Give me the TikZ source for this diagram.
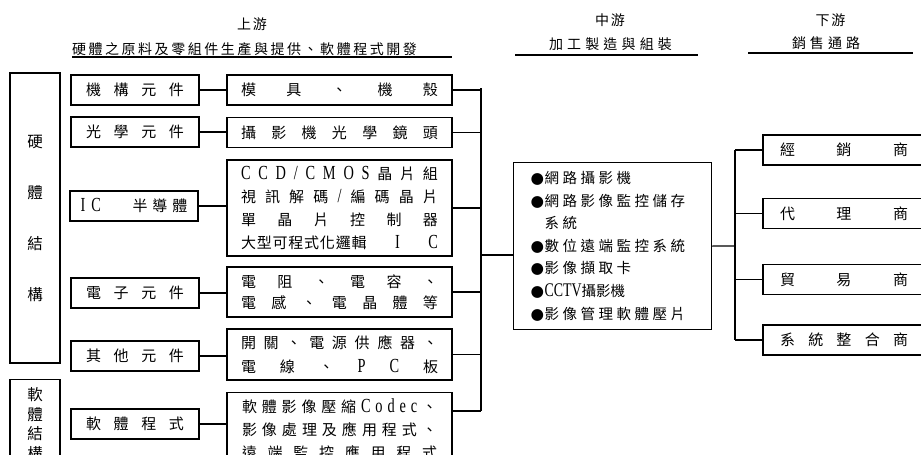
\documentclass[tikz,border=0pt]{standalone}
\usepackage{fontspec}
\setmainfont{Noto Sans CJK TC}
\newfontfamily\lat[FakeStretch=0.72,Scale=1.33]{Liberation Serif}
\newfontfamily\sym{DejaVu Sans}
\makeatletter
\def\spr@endm{\spr@end}
\def\spr@go#1{\def\spr@tmp{#1}\ifx\spr@tmp\spr@endm\else{#1}\spr@sep\expandafter\spr@go\fi}
\newcommand\spread[2]{\hbox to #1{\def\spr@sep{\hfil}\spr@go#2\spr@end\unskip}}
\newcommand\tracked[2]{\hbox{\def\spr@sep{\hskip#1\relax}\spr@go#2\spr@end\unskip}}
\makeatother
\newcommand\bul{\makebox[14pt][l]{\fontsize{15.5}{15.5}\selectfont\sym ●}}
\tikzset{
  box/.style={draw, line width=1.2pt, inner sep=0pt, minimum height=30pt},
  lbox/.style={box, minimum width=128pt, font=\fontsize{15}{15}\selectfont},
  mbox/.style={box, minimum width=225pt, align=center},
  rbox/.style={box, minimum width=177pt, font=\fontsize{15}{15}\selectfont},
  hdr/.style={inner sep=0pt, font=\fontsize{14}{14}\selectfont},
  ln/.style={line width=1.2pt},
}
\begin{document}
\begin{tikzpicture}[x=1pt,y=-1pt]
\useasboundingbox (0,0) rectangle (921,455);
% headers
\node[hdr] (up) at (252,24) {\tracked{2pt}{上游}};
\node[hdr] (ups) at (244.5,49.5) {\spread{345pt}{硬體之原料及零組件生產與提供、軟體程式開發}};
\draw[ln] (72,57) -- (452,57);
\node[hdr] (mdh) at (610,20) {\tracked{2pt}{中游}};
\node[hdr] (mds) at (610.5,44.5) {\spread{123pt}{加工製造與組裝}};
\draw[ln] (515,55) -- (698,55);
\node[hdr] (dnh) at (830.5,20) {\tracked{2pt}{下游}};
\node[hdr] (dns) at (826,43) {\spread{68pt}{銷售通路}};
\draw[ln] (748,53) -- (913,53);
% big left boxes
\node[box, minimum width=50pt, minimum height=290pt, align=center, font=\fontsize{15.5}{51}\selectfont] (hw) at (35,218) {硬\\體\\結\\構};
\node[box, anchor=north, minimum width=50pt, inner ysep=8pt, align=center, font=\fontsize{15.5}{19.5}\selectfont] (sws) at (35,379) {軟\\體\\結\\構};
% first column
\node[lbox] (jg) at (135,90) {\spread{98pt}{機構元件}};
\node[lbox] (gx) at (135,132) {\spread{98pt}{光學元件}};
\node[lbox] (ic) at (134,206) {\hbox to 107pt{{\lat I}\hspace{6pt}{\lat C}\hfil 半\hspace{5pt}導\hspace{5pt}體}};
\node[lbox] (dz) at (135,293) {\spread{98pt}{電子元件}};
\node[lbox] (qt) at (135,356) {\spread{98pt}{其他元件}};
\node[lbox] (rj) at (135,424) {\spread{98pt}{軟體程式}};
% second column
\node[mbox, font=\fontsize{15}{15}\selectfont] (mj) at (339.5,90) {\spread{197pt}{模具、機殼}};
\node[mbox, font=\fontsize{15}{15}\selectfont] (jt) at (339.5,132.5) {\spread{197pt}{攝影機光學鏡頭}};
\node[mbox, minimum height=96pt, font=\fontsize{15}{23.3}\selectfont] (ccd) at (339.5,208) {%
  \spread{197pt}{{\lat C}{\lat C}{\lat D}{\lat /}{\lat C}{\lat M}{\lat O}{\lat S}晶片組}\\
  \spread{197pt}{視訊解碼{\lat /}編碼晶片}\\
  \spread{197pt}{單晶片控制器}\\
  \spread{197pt}{{\tracked{0.8pt}{大型可程式化邏輯}}{\lat I}{\lat C}}};
\node[mbox, minimum height=50pt, font=\fontsize{15}{21}\selectfont] (dr) at (339.5,292) {%
  \spread{197pt}{電阻、電容、}\\
  \spread{197pt}{電感、電晶體等}};
\node[mbox, minimum height=51pt, font=\fontsize{15}{24}\selectfont] (kg) at (339.5,354.5) {%
  \spread{197pt}{開關、電源供應器、}\\
  \spread{197pt}{電線、{\lat P}{\lat C}板}};
\node[mbox, anchor=north, inner ysep=6.5pt, font=\fontsize{15}{23}\selectfont] (swd) at (339.5,392) {%
  \spread{195pt}{軟體影像壓縮{\lat C}{\lat o}{\lat d}{\lat e}{\lat c}、}\\
  \spread{195pt}{影像處理及應用程式、}\\
  \spread{195pt}{遠端監控應用程式}};
% middle box
\node[box, anchor=north west, minimum width=198pt, minimum height=167pt, text width=164pt, inner xsep=17pt, align=left, font=\fontsize{14.5}{22.6}\selectfont] (mid) at (513,162) {%
  \bul\tracked{3.5pt}{網路攝影機}\\
  \bul\tracked{3.5pt}{網路影像監控儲存}\\
  \hspace*{14pt}\tracked{3.5pt}{系統}\\
  \bul\tracked{3.5pt}{數位遠端監控系統}\\
  \bul\tracked{3.5pt}{影像擷取卡}\\
  \bul{\lat CCTV}攝影機\\
  \bul\tracked{3.5pt}{影像管理軟體壓片}};
% right column
\node[rbox] (jx) at (851.5,150) {\hbox to 177pt{\hskip17pt\spread{128pt}{經銷商}\hfil}};
\node[rbox] (dl) at (851.5,213.5) {\hbox to 177pt{\hskip17pt\spread{128pt}{代理商}\hfil}};
\node[rbox] (my) at (851.5,279.5) {\hbox to 177pt{\hskip17pt\spread{128pt}{貿易商}\hfil}};
\node[rbox] (xt) at (851.5,340) {\hbox to 177pt{\hskip17pt\spread{128pt}{系統整合商}\hfil}};
% connectors col1 -> col2
\draw[ln] (jg.east) -- (jg.east -| mj.west);
\draw[ln] (gx.east) -- (gx.east -| jt.west);
\draw[ln] (ic.east) -- (ic.east -| ccd.west);
\draw[ln] (dz.east) -- (dz.east -| dr.west);
\draw[ln] (qt.east) -- (qt.east -| kg.west);
\draw[ln] (rj.east) -- (rj.east -| swd.west);
% left bus
\coordinate (lbT) at (481,88);
\coordinate (lbB) at (481,411);
\coordinate (lbM) at (481,255);
\draw[ln] (lbT) -- (lbB);
\draw[ln] (mj.east) -- (mj.east -| lbT);
\draw[ln] (jt.east) -- (jt.east -| lbT);
\draw[ln] (ccd.east) -- (ccd.east -| lbT);
\draw[ln] (dr.east) -- (dr.east -| lbT);
\draw[ln] (kg.east) -- (kg.east -| lbT);
\draw[ln] (swd.north east |- lbB) -- (lbB);
\draw[ln] (lbM) -- (lbM -| mid.west);
% right bus
\coordinate (rbM) at (735,246);
\draw[ln] (mid.east) -- (rbM);
\draw[ln] (rbM |- jx.west) -- (rbM |- xt.west);
\draw[ln] (jx.west -| rbM) -- (jx.west);
\draw[ln] (dl.west -| rbM) -- (dl.west);
\draw[ln] (my.west -| rbM) -- (my.west);
\draw[ln] (xt.west -| rbM) -- (xt.west);
\end{tikzpicture}
\end{document}
